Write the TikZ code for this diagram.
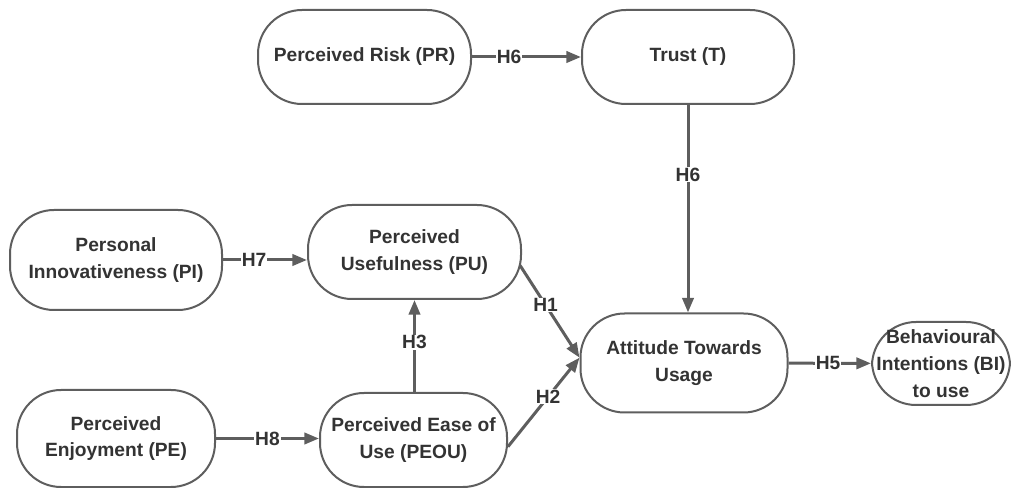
\documentclass[tikz,border=0pt]{standalone}
\usepackage{fontspec}
\setmainfont{Liberation Sans}
\usetikzlibrary{arrows.meta}
\definecolor{edge}{HTML}{5E5E5E}
\definecolor{ink}{HTML}{333333}
\tikzset{
  stadium/.style 2 args={draw=edge, line width=1.5pt, rounded corners=33pt,
    fill=white, minimum width=#1*0.75pt, minimum height=#2*0.75pt,
    align=center, inner sep=0pt},
  link/.style={draw=edge, line width=2.25pt,
    -{Triangle[length=11pt,width=8.5pt]}},
  hyp/.style={fill=white, inner sep=0.6pt, text=ink}
}
\begin{document}
\begin{tikzpicture}[x=0.75pt, y=-0.75pt,
  font=\fontsize{14.4}{20}\selectfont\bfseries, text=ink]
\useasboundingbox (0,0) rectangle (1011,488);

% constructs
\node[stadium={213}{94}] (PR)   at (364.5,57)  {Perceived Risk (PR)};
\node[stadium={212}{94}] (T)    at (688,57)    {Trust (T)};
\node[stadium={212}{100}] (PI)  at (116,260)   {Personal\\Innovativeness (PI)};
\node[stadium={213}{94}] (PU)   at (414.5,252) {Perceived\\Usefulness (PU)};
\node[stadium={207}{99}] (ATU)  at (684,363)   {Attitude Towards\\Usage};
\node[stadium={138}{83}] (BI)   at (941,363.5) {Behavioural\\Intentions (BI)\\to use};
\node[stadium={198}{97}] (PE)   at (116,438.5) {Perceived\\Enjoyment (PE)};
\node[stadium={187}{94}] (PEOU) at (413.5,440) {Perceived Ease of\\Use (PEOU)};

% hypothesised paths
\draw[link] (PR) -- node[hyp, pos=0.34] {H6} (T);
\draw[link] (T.south) -- node[hyp, pos=0.335] {H6} (ATU.north -| T.south);
\draw[link] (PI) -- node[hyp, pos=0.37] {H7} (PI -| PU.west);
\draw[link] (PE) -- node[hyp, pos=0.5] {H8} (PE -| PEOU.west);
\draw[link] (PEOU.north -| PU.south) -- node[hyp, pos=0.54] {H3} (PU.south);
\draw[link] ([xshift=-1.5pt,yshift=-10pt]PU.east) -- node[hyp, pos=0.43] {H1} ([yshift=4pt]ATU.west);
\draw[link] ([yshift=-5pt]PEOU.east) -- node[hyp, pos=0.56] {H2} ([yshift=4pt]ATU.west);
\draw[link] (ATU) -- node[hyp, pos=0.48] {H5} (BI);
\end{tikzpicture}
\end{document}
